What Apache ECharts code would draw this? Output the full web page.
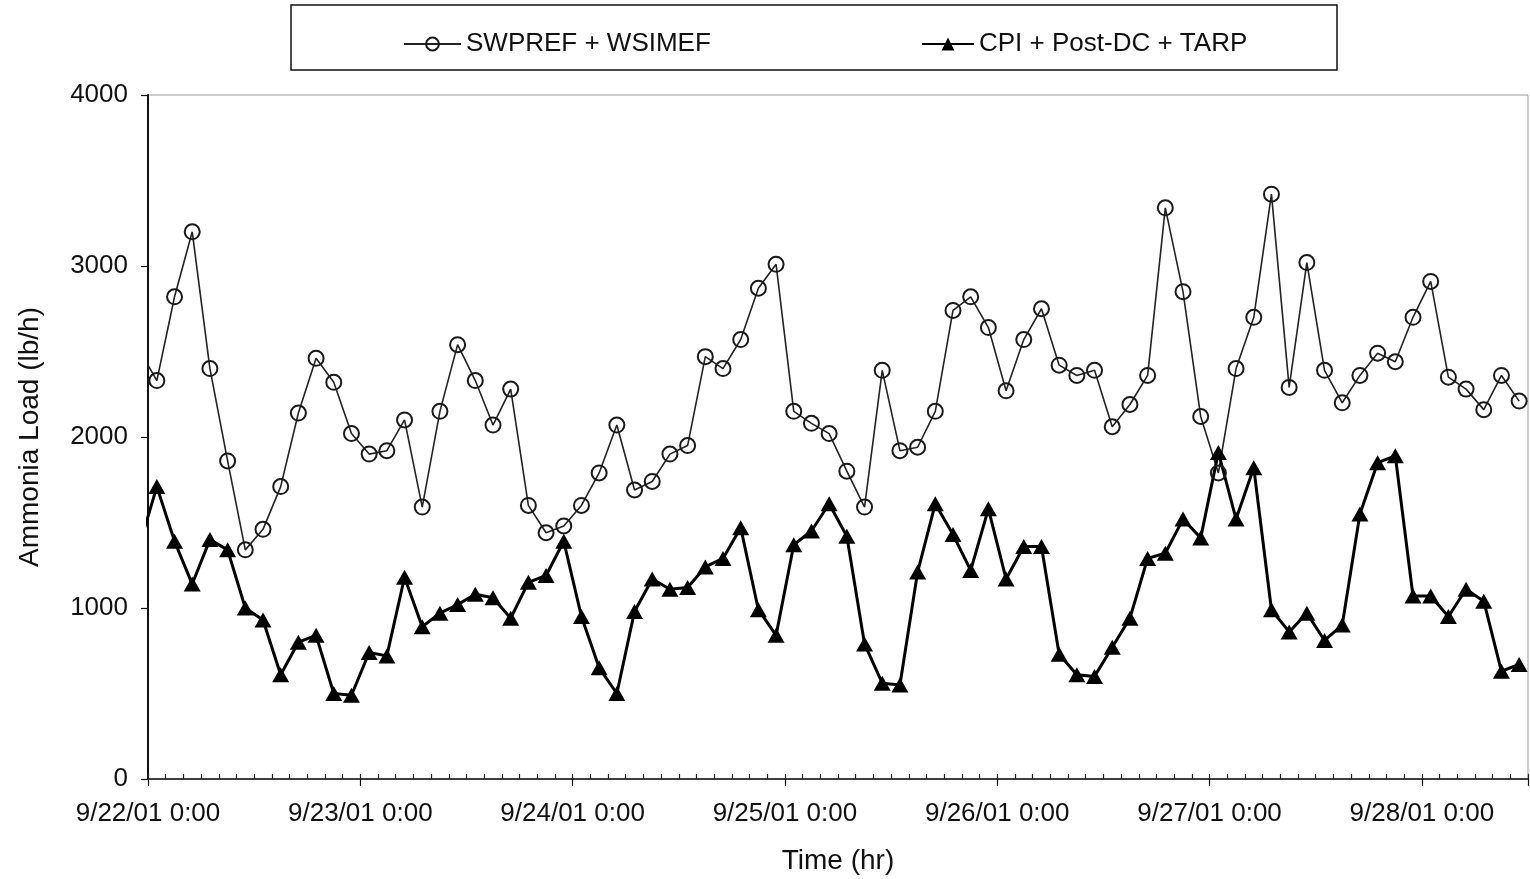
<!DOCTYPE html>
<html>
<head>
<meta charset="utf-8">
<script src="https://cdn.jsdelivr.net/npm/echarts@6/dist/echarts.min.js"></script>
<style>
  html, body { margin: 0; padding: 0; background: #fff; }
  #chart { width: 1530px; height: 879px; }
</style>
</head>
<body>
<div id="chart"></div>
<script>
// Series names
const seriesNames = ['SWPREF + WSIMEF', 'CPI + Post-DC + TARP'];

// Two-hourly readings; the first one is taken at 9/21/01 23:00,
// one hour before the start of the time axis (hours counted from 9/22/01 0:00).
const firstHour = -1;
const stepHours = 2;

// Ammonia load, lb/h
const swprefWsimef = [
  2510,
  2330, 2820, 3200, 2400, 1860, 1340, 1460, 1710, 2140, 2460, 2320, 2020,
  1900, 1920, 2100, 1590, 2150, 2540, 2330, 2070, 2280, 1600, 1440, 1480,
  1600, 1790, 2070, 1690, 1740, 1900, 1950, 2470, 2400, 2570, 2870, 3010,
  2150, 2080, 2020, 1800, 1590, 2390, 1920, 1940, 2150, 2740, 2820, 2640,
  2270, 2570, 2750, 2420, 2360, 2390, 2060, 2190, 2360, 3340, 2850, 2120,
  1790, 2400, 2700, 3420, 2290, 3020, 2390, 2200, 2360, 2490, 2440, 2700,
  2910, 2350, 2280, 2160, 2360, 2210
];
const cpiPostDcTarp = [
  1360,
  1710, 1390, 1140, 1400, 1340, 1000, 930, 610, 800, 840, 500, 490,
  740, 720, 1180, 890, 970, 1020, 1080, 1060, 940, 1150, 1190, 1390,
  950, 650, 500, 980, 1170, 1110, 1120, 1240, 1290, 1470, 990, 840,
  1370, 1450, 1610, 1420, 790, 560, 550, 1210, 1610, 1430, 1220, 1580,
  1170, 1360, 1360, 730, 610, 600, 770, 940, 1290, 1320, 1520, 1410,
  1910, 1520, 1820, 990, 860, 970, 810, 900, 1550, 1850, 1890, 1070,
  1070, 950, 1110, 1040, 630, 670
];

// Time axis tick labels, one per day
const dayTickLabels = [
  '9/22/01 0:00', '9/23/01 0:00', '9/24/01 0:00', '9/25/01 0:00',
  '9/26/01 0:00', '9/27/01 0:00', '9/28/01 0:00'
];
const axisEndHour = 156;   // 9/28/01 12:00

const FONT = '"Liberation Sans", Arial, Helvetica, sans-serif';

function toPoints(values) {
  return values.map((v, i) => [firstHour + i * stepHours, v]);
}

const chart = echarts.init(document.getElementById('chart'), null, { renderer: 'canvas' });

chart.setOption({
  animation: false,
  backgroundColor: '#ffffff',
  textStyle: { fontFamily: FONT },
  graphic: [{
    type: 'rect',
    shape: { x: 291, y: 5, width: 1046, height: 65 },
    style: { fill: 'none', stroke: '#111', lineWidth: 1.5 },
    silent: true
  }],
  legend: [
    {
      data: [seriesNames[0]],
      left: 398, top: 26,
      itemWidth: 57, itemHeight: 16,
      textStyle: { fontFamily: FONT, fontSize: 26, color: '#111' }
    },
    {
      data: [seriesNames[1]],
      left: 916, top: 26,
      itemWidth: 52, itemHeight: 16,
      textStyle: { fontFamily: FONT, fontSize: 26, color: '#111' }
    }
  ],
  grid: {
    left: 148, right: 2, top: 95, bottom: 100,
    outerBoundsMode: 'none',
    show: true,
    borderColor: '#9a9a9a',
    borderWidth: 1,
    backgroundColor: 'transparent'
  },
  xAxis: [
    {
      type: 'value',
      min: 0, max: axisEndHour, interval: 24,
      axisLine: { show: true, onZero: false, lineStyle: { color: '#111', width: 1.5 } },
      axisTick: { show: true, length: 7, lineStyle: { color: '#111', width: 1.2 } },
      axisLabel: {
        margin: 22,
        fontFamily: FONT, fontSize: 26, color: '#111',
        formatter: v => (v % 24 === 0 ? (dayTickLabels[v / 24] || '') : '')
      },
      splitLine: { show: false },
      name: 'Time (hr)',
      nameLocation: 'middle',
      nameGap: 68,
      nameTextStyle: { fontFamily: FONT, fontSize: 28, color: '#111' }
    },
    {
      // two-hour ticks along the time axis
      type: 'value',
      position: 'bottom',
      min: 0, max: axisEndHour, interval: 12,
      axisLine: { show: false },
      axisTick: { show: true, inside: true, length: 5, lineStyle: { color: '#222', width: 1.2 } },
      minorTick: { show: true, splitNumber: 6, length: 5, lineStyle: { color: '#222', width: 1.2 } },
      axisLabel: { show: false },
      splitLine: { show: false },
      minorSplitLine: { show: false }
    }
  ],
  yAxis: {
    type: 'value',
    min: 0, max: 4000, interval: 1000,
    axisLine: { show: true, onZero: false, lineStyle: { color: '#111', width: 2 } },
    axisTick: { show: true, length: 7, lineStyle: { color: '#111', width: 1.2 } },
    axisLabel: {
      margin: 20, fontFamily: FONT, fontSize: 26, color: '#111',
      formatter: v => String(v)
    },
    splitLine: { show: false },
    name: 'Ammonia Load (lb/h)',
    nameLocation: 'middle',
    nameGap: 104,
    nameTextStyle: { fontFamily: FONT, fontSize: 28, color: '#111' }
  },
  series: [
    {
      name: seriesNames[0],
      type: 'line',
      xAxisIndex: 0,
      data: toPoints(swprefWsimef),
      clip: true,
      symbol: 'circle',
      symbolSize: 15,
      showAllSymbol: true,
      lineStyle: { color: '#222', width: 1.6 },
      itemStyle: { color: 'rgba(255,255,255,0)', borderColor: '#1a1a1a', borderWidth: 2 }
    },
    {
      name: seriesNames[1],
      type: 'line',
      xAxisIndex: 0,
      data: toPoints(cpiPostDcTarp),
      clip: true,
      symbol: 'triangle',
      symbolSize: [17, 15],
      showAllSymbol: true,
      lineStyle: { color: '#000', width: 3 },
      itemStyle: { color: '#000' }
    }
  ]
});
</script>
</body>
</html>
